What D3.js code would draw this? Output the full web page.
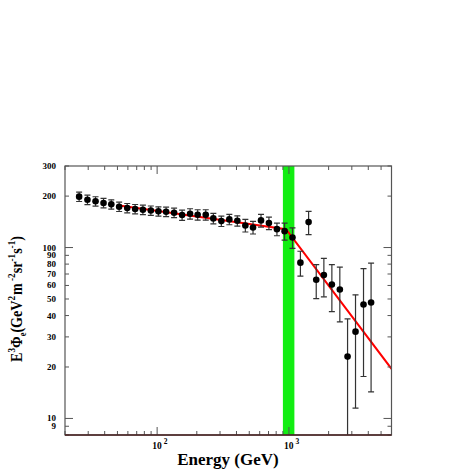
<!DOCTYPE html>
<html><head><meta charset="utf-8">
<script src="https://cdn.jsdelivr.net/npm/d3@7"></script>
<style>body{margin:0;background:#fff}svg{display:block}</style>
</head><body>
<script>
// ---- data ----
const energy = [25.6,29.6,34.1,39.2,44.9,51.5,59.3,68.1,78.0,89.6,102.3,117,134.5,154.7,177.8,203,233.8,267,307,353,406,467,534,614,705,811,927,1064,1222,1410,1611,1841,2117,2433,2785,3200,3680,4200];
const flux   = [198.5,190.5,186.5,182.2,179,173.4,170.3,168,166.4,164.6,162.8,162,159.8,154.9,157.6,155.5,155.5,148.1,142.8,146.1,143.4,134.7,131.1,144.1,139,128.1,124.7,114.5,81.6,140.9,64.8,69,60.8,56.8,23,32.2,46.4,47.7];
const fluxErr= [12.5,12,11.7,11.5,11.3,10.9,10.7,10.6,10.5,10.4,10.3,10.2,10.1,10.8,11,10.9,10.9,10.4,10,10.2,10,11.4,11.1,12.3,11.8,10.9,14.3,15.7,13.5,21.9,14.6,17.5,18.6,20.1,15.2,20.7,28.8,33.4];
const fitE = [50, 950, 6000];
const fitV = [177, 128, 19.5];
const bandE = [900, 1100];
const xTickLabels = [100, 1000];
const yTickLabels = [9,10,20,30,40,50,60,70,80,90,100,200,300];

const W = 469, H = 469;
const L = 65, R = 391.5, T = 166, B = 435;
const svg = d3.select("body").append("svg").attr("width", W).attr("height", H);
const x = d3.scaleLog().domain([20, 6000]).range([L, R]);
const y = d3.scaleLog().domain([8, 300]).range([B, T]);
const serif = "'Liberation Serif','DejaVu Serif',serif";

svg.append("defs").append("clipPath").attr("id","clip")
  .append("rect").attr("x",L).attr("y",T).attr("width",R-L).attr("height",B-T);
const plot = svg.append("g").attr("clip-path","url(#clip)");

// green band
plot.append("rect").attr("x", x(bandE[0])).attr("y", T)
  .attr("width", x(bandE[1]) - x(bandE[0])).attr("height", B - T)
  .attr("fill", "#12ee12");

// ticks
const xMinor = [];
[10,100,1000].forEach(d => { for (let k=1;k<10;k++){ const v=d*k; if (v>=20 && v<=6000) xMinor.push(v);} });
const yMinor = [];
[1,10,100].forEach(d => { for (let k=1;k<10;k++){ const v=d*k; if (v>=8 && v<=300) yMinor.push(v);} });
const isMajor = v => Math.abs(Math.log10(v) - Math.round(Math.log10(v))) < 1e-9;
const tk = svg.append("g").attr("stroke","#555").attr("stroke-width",1);
xMinor.forEach(v => {
  const len = isMajor(v) ? 8 : 4;
  tk.append("line").attr("x1",x(v)).attr("x2",x(v)).attr("y1",B).attr("y2",B-len);
  tk.append("line").attr("x1",x(v)).attr("x2",x(v)).attr("y1",T).attr("y2",T+len);
});
yMinor.forEach(v => {
  const len = isMajor(v) ? 8 : 4;
  tk.append("line").attr("x1",L).attr("x2",L+len).attr("y1",y(v)).attr("y2",y(v));
  tk.append("line").attr("x1",R).attr("x2",R-len).attr("y1",y(v)).attr("y2",y(v));
});

// fit line
plot.append("path").datum(fitE.map((e,i)=>[e,fitV[i]]))
  .attr("d", d3.line().x(d=>x(d[0])).y(d=>y(d[1])))
  .attr("fill","none").attr("stroke","#ff0000").attr("stroke-width",2);

// error bars
const eb = plot.append("g").attr("stroke","#333").attr("stroke-width",1.2);
energy.forEach((e,i) => {
  const cx = x(e);
  const hi = y(flux[i] + fluxErr[i]);
  const loV = flux[i] - fluxErr[i];
  const lo = loV > 0 ? y(Math.max(loV, 7)) : B + 5;
  eb.append("line").attr("x1",cx).attr("x2",cx).attr("y1",hi).attr("y2",lo);
  eb.append("line").attr("x1",cx-3).attr("x2",cx+3).attr("y1",hi).attr("y2",hi);
  if (loV >= 8) eb.append("line").attr("x1",cx-3).attr("x2",cx+3).attr("y1",lo).attr("y2",lo);
});
// markers
plot.append("g").selectAll("circle").data(energy).join("circle")
  .attr("cx", d => x(d)).attr("cy", (d,i) => y(flux[i])).attr("r", 3.3).attr("fill","#000");

// frame
svg.append("rect").attr("x",L).attr("y",T).attr("width",R-L).attr("height",B-T)
  .attr("fill","none").attr("stroke","#555").attr("stroke-width",1.2);
svg.append("line").attr("x1",L).attr("x2",R).attr("y1",B).attr("y2",B)
  .attr("stroke","#4a2222").attr("stroke-width",1.4);

// y tick labels
svg.append("g").selectAll("text").data(yTickLabels).join("text")
  .attr("x", 56).attr("y", d => y(d)).attr("dy","0.33em")
  .attr("text-anchor","end").attr("font-family",serif).attr("font-weight","bold")
  .attr("font-size",9).text(d => d);

// x tick labels
xTickLabels.forEach(v => {
  const t = svg.append("text").attr("x", x(v) - 5).attr("y", 449)
    .attr("font-family",serif).attr("font-weight","bold").attr("font-size",9.5);
  t.append("tspan").text("10");
  t.append("tspan").attr("dx",2).attr("dy",-5).attr("font-size",7.5).text(String(Math.round(Math.log10(v))));
});

// x axis title
svg.append("text").attr("x", 228).attr("y", 465).attr("text-anchor","middle")
  .attr("font-family",serif).attr("font-weight","bold").attr("font-size",17)
  .text("Energy (GeV)");

// y axis title
const yt = svg.append("text").attr("transform","translate(22,299) rotate(-90)")
  .attr("text-anchor","middle").attr("font-family",serif).attr("font-weight","bold").attr("font-size",16)
  .attr("textLength",126).attr("lengthAdjust","spacingAndGlyphs");
yt.append("tspan").text("E");
yt.append("tspan").attr("dy",-7).attr("font-size",10.5).text("3");
yt.append("tspan").attr("dy",7).text("Φ");
yt.append("tspan").attr("dy",4).attr("font-size",9.5).text("e");
yt.append("tspan").attr("dy",-4).text("(GeV");
yt.append("tspan").attr("dy",-7).attr("font-size",10.5).text("2");
yt.append("tspan").attr("dy",7).attr("dx",1).text("m");
yt.append("tspan").attr("dy",-7).attr("font-size",10.5).text(" -2");
yt.append("tspan").attr("dy",7).text("sr");
yt.append("tspan").attr("dy",-7).attr("font-size",10.5).text("-1");
yt.append("tspan").attr("dy",7).text("s");
yt.append("tspan").attr("dy",-7).attr("font-size",10.5).text("-1");
yt.append("tspan").attr("dy",7).text(")");
</script>
</body></html>
